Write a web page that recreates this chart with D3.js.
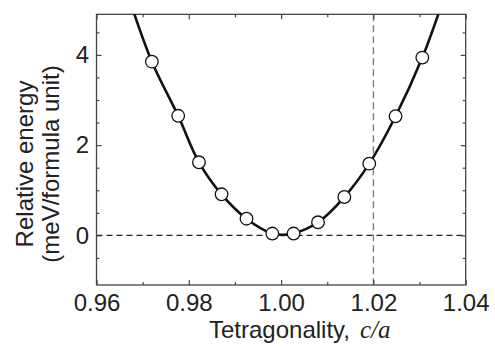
<!DOCTYPE html>
<html>
<head>
<meta charset="utf-8">
<script src="https://cdn.jsdelivr.net/npm/d3@7"></script>
<style>
  body { margin: 0; background: #fff; }
  svg { display: block; }
  text { font-family: "Liberation Sans", Arial, sans-serif; fill: #222; }
</style>
</head>
<body>
<svg id="chart" width="495" height="348"></svg>
<script>
// Calculated points (c/a, relative energy in meV/f.u.)
const caValues = [0.9720, 0.9777, 0.9822, 0.9871, 0.9925, 0.9981, 1.0027, 1.0080, 1.0137, 1.0191, 1.0248, 1.0306];
const energyValues = [3.85, 2.65, 1.62, 0.91, 0.37, 0.04, 0.04, 0.29, 0.85, 1.59, 2.64, 3.94];

// Fitted curve (runs past the top of the frame)
const fitCa = [0.9670, 0.9720, 0.9777, 0.9822, 0.9871, 0.9925, 0.9981, 1.0004, 1.0027, 1.0080, 1.0137, 1.0191, 1.0248, 1.0306, 1.0350];
const fitEnergy = [5.27, 3.85, 2.65, 1.62, 0.91, 0.37, 0.04, 0.01, 0.04, 0.29, 0.85, 1.59, 2.64, 3.94, 5.18];

const xMajor = [0.96, 0.98, 1.00, 1.02, 1.04];
const xMinor = [0.97, 0.99, 1.01, 1.03];
const yMajor = [0, 2, 4];
const yMinor = [-0.5, 0.5, 1, 1.5, 2.5, 3, 3.5, 4.5];
const refCa = 1.02;

const svg = d3.select("#chart");
const margin = { top: 14.3, right: 29.3, bottom: 63, left: 96.5 };
const W = 495, H = 348;

const x = d3.scaleLinear().domain([0.96, 1.04]).range([margin.left, W - margin.right]);
const y = d3.scaleLinear().domain([-1.1, 4.9]).range([H - margin.bottom, margin.top]);

svg.append("clipPath").attr("id", "plot-clip")
  .append("rect")
  .attr("x", margin.left).attr("y", margin.top)
  .attr("width", x.range()[1] - x.range()[0])
  .attr("height", y.range()[0] - y.range()[1]);

// reference lines
svg.append("line")
  .attr("x1", x(0.96)).attr("x2", x(1.04))
  .attr("y1", y(0)).attr("y2", y(0))
  .attr("stroke", "#222").attr("stroke-width", 1.1)
  .attr("stroke-dasharray", "6,4");

svg.append("line")
  .attr("x1", x(refCa)).attr("x2", x(refCa))
  .attr("y1", y(4.9)).attr("y2", y(-1.1))
  .attr("stroke", "#777").attr("stroke-width", 1.3)
  .attr("stroke-dasharray", "7,4");

// axes: major ticks with labels, minor ticks bare, all pointing inward
function tickAxis(axisFn, scale, values, size, pad, fmt, translate) {
  const a = axisFn(scale).tickValues(values).tickSize(size).tickPadding(pad)
    .tickFormat(fmt || "");
  const g = svg.append("g").attr("transform", translate).call(a);
  g.select(".domain").remove();
  g.selectAll(".tick line").attr("stroke", "#444").attr("stroke-width", 1.2);
  g.selectAll(".tick text").attr("font-size", 24).attr("fill", "#222")
    .attr("font-family", "'Liberation Sans', Arial, sans-serif");
  return g;
}

const fmtX = d3.format(".2f");
const fmtY = d3.format("d");
tickAxis(d3.axisBottom, x, xMajor, -5, 9, fmtX, `translate(0,${y(-1.1)})`);
tickAxis(d3.axisBottom, x, xMinor, -3, 0, null, `translate(0,${y(-1.1)})`);
tickAxis(d3.axisTop, x, xMajor, -5, 0, null, `translate(0,${y(4.9)})`);
tickAxis(d3.axisTop, x, xMinor, -3, 0, null, `translate(0,${y(4.9)})`);

tickAxis(d3.axisLeft, y, yMajor, -5, 7.5, fmtY, `translate(${x(0.96)},0)`);
tickAxis(d3.axisLeft, y, yMinor, -3, 0, null, `translate(${x(0.96)},0)`);
tickAxis(d3.axisRight, y, yMajor, -5, 0, null, `translate(${x(1.04)},0)`);
tickAxis(d3.axisRight, y, yMinor, -3, 0, null, `translate(${x(1.04)},0)`);

// frame
svg.append("rect")
  .attr("x", x(0.96)).attr("y", y(4.9))
  .attr("width", x(1.04) - x(0.96)).attr("height", y(-1.1) - y(4.9))
  .attr("fill", "none").attr("stroke", "#444").attr("stroke-width", 1.3);

// fitted curve
const fitData = fitCa.map((c, i) => ({ c, e: fitEnergy[i] }));
const line = d3.line().x(d => x(d.c)).y(d => y(d.e)).curve(d3.curveCatmullRom.alpha(0.5));
svg.append("path")
  .datum(fitData)
  .attr("clip-path", "url(#plot-clip)")
  .attr("d", line)
  .attr("fill", "none").attr("stroke", "#111").attr("stroke-width", 2.6);

// data points
const pts = caValues.map((c, i) => ({ c, e: energyValues[i] }));
svg.selectAll("circle.pt").data(pts).enter().append("circle")
  .attr("class", "pt")
  .attr("cx", d => x(d.c)).attr("cy", d => y(d.e))
  .attr("r", 6.3)
  .attr("fill", "#fff").attr("stroke", "#111").attr("stroke-width", 1.3);

// x title
const xt = svg.append("text")
  .attr("x", 209).attr("y", 337.5)
  .attr("font-size", 24);
xt.append("tspan").text("Tetragonality,");
xt.append("tspan").attr("dx", 10)
  .attr("font-family", "'Liberation Serif', 'Times New Roman', serif")
  .attr("font-style", "italic").attr("font-size", 25)
  .text("c/a");

// y title, two rotated lines
const yTitle = ["Relative energy", "(meV/formula unit)"];
svg.selectAll("text.ytitle").data(yTitle).enter().append("text")
  .attr("class", "ytitle")
  .attr("transform", (d, i) => `translate(${33 + i * 26},164) rotate(-90)`)
  .attr("text-anchor", "middle")
  .attr("font-size", 24)
  .text(d => d);
</script>
</body>
</html>
